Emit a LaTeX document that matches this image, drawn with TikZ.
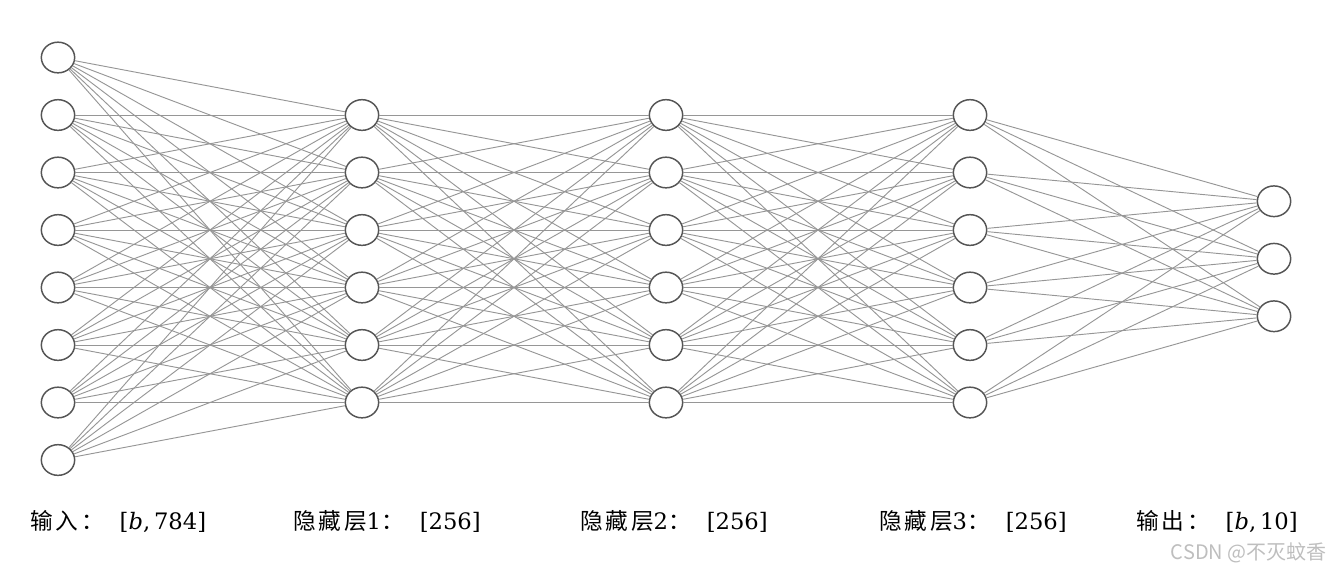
\documentclass[tikz,border=0pt]{standalone}
\usepackage{fontspec}
\newfontfamily\cjk[LetterSpace=12]{Noto Sans CJK SC}
\newfontfamily\cjkplain{Noto Sans CJK SC}
\newfontfamily\numfont{DejaVu Serif}
\usetikzlibrary{shapes.geometric}

\newcommand{\zh}[1]{{\cjk\fontsize{17}{19}\selectfont #1}}
\newcommand{\num}[1]{{\numfont\fontsize{17}{19}\selectfont #1}}
\newcommand{\gap}{\hspace{12pt}}

\tikzset{
  neuron/.style={draw={rgb,255:red,85;green,85;blue,85}, line width=1.1pt, ellipse, fill=white,
    minimum width=25pt, minimum height=23pt, inner sep=0pt},
  link/.style={draw={rgb,255:red,150;green,150;blue,150}, line width=0.7pt},
  lbl/.style={anchor=west, inner sep=0pt}
}

\begin{document}
\begin{tikzpicture}[x=0.75pt,y=0.75pt,yscale=-1,xscale=1]
\useasboundingbox (0,0) rectangle (1330,576);

% Layers
\foreach \i in {1,...,8}
  \node[neuron] (in\i) at (58,{57.5+57.5*(\i-1)}) {};
\foreach \l/\x in {a/362,b/666,c/970}
  \foreach \j in {1,...,6}
    \node[neuron] (h\l\j) at (\x,{115+57.5*(\j-1)}) {};
\foreach \k in {1,2,3}
  \node[neuron] (out\k) at (1274,{201.25+57.5*(\k-1)}) {};

% Connections
\foreach \i in {1,...,8}
  \foreach \j in {1,...,6}
    \draw[link] (in\i) -- (ha\j);
\foreach \p/\q in {a/b,b/c}
  \foreach \i in {1,...,6}
    \foreach \j in {1,...,6}
      \draw[link] (h\p\i) -- (h\q\j);
\foreach \i in {1,...,6}
  \foreach \k in {1,2,3}
    \draw[link] (hc\i) -- (out\k);

% Text Node
\node[lbl] (tin) at (30,521) {\zh{输入：}\gap\num{[\textit{b},\,784]}};
% Text Node
\node[lbl] (tha) at (293,521) {\zh{隐藏层}\num{1}\zh{：}\gap\num{[256]}};
% Text Node
\node[lbl] (thb) at (580,521) {\zh{隐藏层}\num{2}\zh{：}\gap\num{[256]}};
% Text Node
\node[lbl] (thc) at (879,521) {\zh{隐藏层}\num{3}\zh{：}\gap\num{[256]}};
% Text Node
\node[lbl] (tout) at (1136,521) {\zh{输出：}\gap\num{[\textit{b},\,10]}};
% Text Node
\node[anchor=east, inner sep=0pt, text={rgb,255:red,190;green,190;blue,190},
  font=\cjkplain\fontsize{15}{17}\selectfont] (mark) at (1327,553) {CSDN @不灭蚊香};

\end{tikzpicture}
\end{document}
